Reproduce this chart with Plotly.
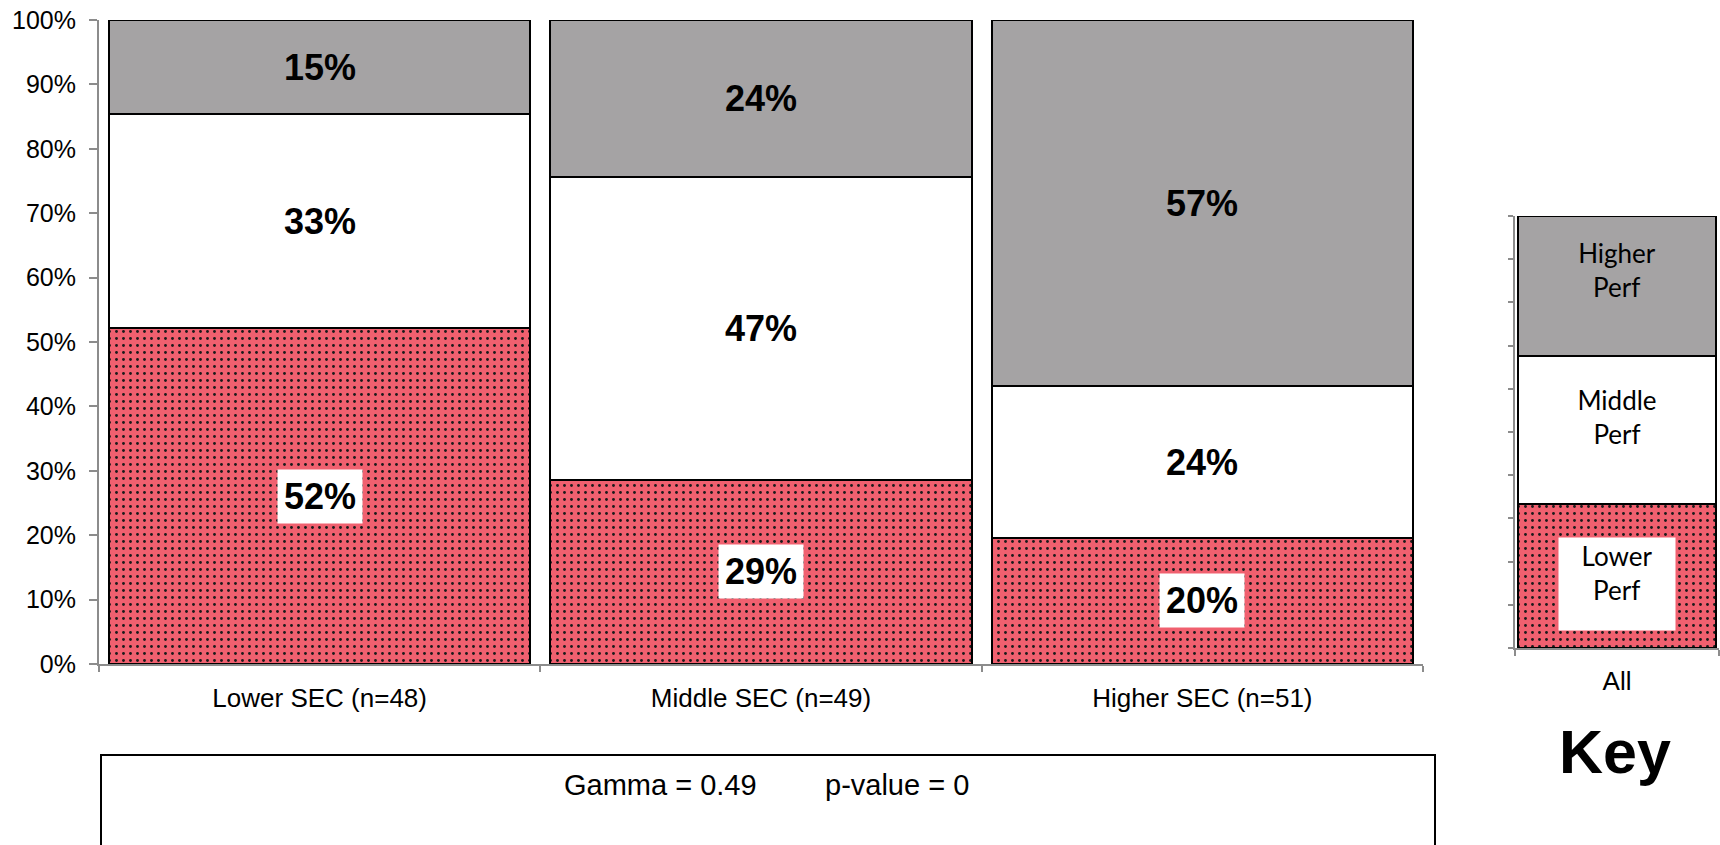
import plotly.graph_objects as go

W, H = 1720, 845

categories = ["Lower SEC (n=48)", "Middle SEC (n=49)", "Higher SEC (n=51)"]
lower_perf = [52.1, 28.6, 19.6]
middle_perf = [33.3, 47.0, 23.5]
higher_perf = [14.6, 24.4, 56.9]

key_category = ["All"]
key_lower = [33.3]
key_middle = [34.3]
key_higher = [32.4]
key_labels = ["Lower<br>Perf", "Middle<br>Perf", "Higher<br>Perf"]

stats_gamma = "Gamma = 0.49"
stats_p = "p-value = 0"

RED = "#F0606F"
GREY = "#A5A3A4"
AXC = "#8C8C8C"
ARIAL = "Liberation Sans, Arial, sans-serif"

def px_x(p):
    return p / W

def px_y(p):
    return 1 - p / H

dot = dict(shape=".", bgcolor=RED, fgcolor="#1a1a1a", size=7, solidity=0.13, fillmode="replace")

fig = go.Figure()
series = [("Lower Perf", lower_perf, dict(color=RED, pattern=dot)),
          ("Middle Perf", middle_perf, dict(color="white")),
          ("Higher Perf", higher_perf, dict(color=GREY))]
for name, vals, mk in series:
    fig.add_trace(go.Bar(x=categories, y=vals, name=name, xaxis="x", yaxis="y",
                         marker=dict(line=dict(color="black", width=2), **mk),
                         hoverinfo="skip"))

key_series = [("Lower Perf", key_lower, dict(color=RED, pattern=dot)),
              ("Middle Perf", key_middle, dict(color="white")),
              ("Higher Perf", key_higher, dict(color=GREY))]
for name, vals, mk in key_series:
    fig.add_trace(go.Bar(x=key_category, y=vals, name=name, xaxis="x2", yaxis="y3",
                         width=0.975,
                         marker=dict(line=dict(color="black", width=2), **mk),
                         hoverinfo="skip"))

annotations = []
for i, cat in enumerate(categories):
    base = 0
    for j, vals in enumerate([lower_perf, middle_perf, higher_perf]):
        v = vals[i]
        annotations.append(dict(
            x=cat, y=base + v / 2, xref="x", yref="y", showarrow=False,
            xanchor="center", yanchor="middle",
            text=f"<b>{v:.0f}%</b>", font=dict(family=ARIAL, size=36, color="black"),
            bgcolor="white" if j == 0 else "rgba(0,0,0,0)", borderpad=6))
        base += v

kbase = 0
shifts = [-8, 2, 5]
for j, vals in enumerate([key_lower, key_middle, key_higher]):
    v = vals[0]
    annotations.append(dict(
        x=key_category[0], y=kbase + v / 2, xref="x2", yref="y3", showarrow=False,
        xanchor="center", yanchor="middle",
        text=key_labels[j], font=dict(family="Lato, Calibri, sans-serif", size=26, color="black"),
        bgcolor="white" if j == 0 else "rgba(0,0,0,0)",
        width=112, height=88, valign="top", borderpad=2, yshift=shifts[j]))
    kbase += v

annotations.append(dict(x=px_x(1615), y=px_y(752), xref="paper", yref="paper",
                        xanchor="center", yanchor="middle",
                        showarrow=False, text="<b>Key</b>",
                        font=dict(family=ARIAL, size=61, color="black")))
annotations.append(dict(x=px_x(660), y=px_y(785), xref="paper", yref="paper",
                        xanchor="center", yanchor="middle",
                        showarrow=False, text=stats_gamma,
                        font=dict(family=ARIAL, size=29, color="black")))
annotations.append(dict(x=px_x(897), y=px_y(785), xref="paper", yref="paper",
                        xanchor="center", yanchor="middle",
                        showarrow=False, text=stats_p,
                        font=dict(family=ARIAL, size=29, color="black")))

shapes = [dict(type="rect", xref="paper", yref="paper",
               x0=px_x(101), x1=px_x(1435), y0=-0.1, y1=px_y(755),
               line=dict(color="black", width=2), fillcolor="rgba(0,0,0,0)")]

yax_common = dict(range=[0, 100], dtick=10, showgrid=False, zeroline=False,
                  fixedrange=True, automargin=False)

fig.update_layout(
    width=W, height=H,
    margin=dict(l=0, r=0, t=0, b=0, pad=0, autoexpand=False),
    paper_bgcolor="white", plot_bgcolor="rgba(0,0,0,0)",
    barmode="stack", bargap=0.045, showlegend=False,
    font=dict(family=ARIAL, color="black"),
    xaxis=dict(domain=[px_x(99), px_x(1423)], anchor="y", showline=True, linecolor=AXC,
               linewidth=2, ticks="outside", tickson="boundaries", ticklen=6, tickcolor=AXC,
               tickwidth=2, tickfont=dict(size=26, family=ARIAL), showgrid=False,
               ticklabelstandoff=10, automargin=False, fixedrange=True),
    yaxis=dict(domain=[px_y(664), px_y(20)], anchor="x", showline=True, linecolor=AXC,
               linewidth=2, ticks="outside", ticklen=8, tickcolor=AXC, tickwidth=2,
               ticksuffix="%", tickfont=dict(size=25, family=ARIAL),
               ticklabelstandoff=8, **yax_common),
    yaxis2=dict(overlaying="y", side="right", anchor="x", showline=False, ticks="inside",
                ticklen=9, tickcolor=AXC, tickwidth=2, showticklabels=False, **yax_common),
    xaxis2=dict(domain=[px_x(1515), px_x(1719)], anchor="y3", showline=True, linecolor=AXC,
                linewidth=2, ticks="outside", tickson="boundaries", ticklen=6, tickcolor=AXC,
                tickwidth=2, tickfont=dict(size=26, family=ARIAL), showgrid=False,
                ticklabelstandoff=9, automargin=False, fixedrange=True),
    yaxis3=dict(domain=[px_y(648), px_y(216)], anchor="x2", showline=True, linecolor=AXC,
                linewidth=2, ticks="outside", ticklen=5, tickcolor=AXC, tickwidth=2,
                showticklabels=False, **yax_common),
    yaxis4=dict(overlaying="y3", side="right", anchor="x2", showline=False, ticks="inside",
                ticklen=5, tickcolor=AXC, tickwidth=2, showticklabels=False, **yax_common),
    annotations=annotations, shapes=shapes,
)

fig.write_html("out.html", config={"displayModeBar": False},
               post_script="document.body.style.margin='0';")
